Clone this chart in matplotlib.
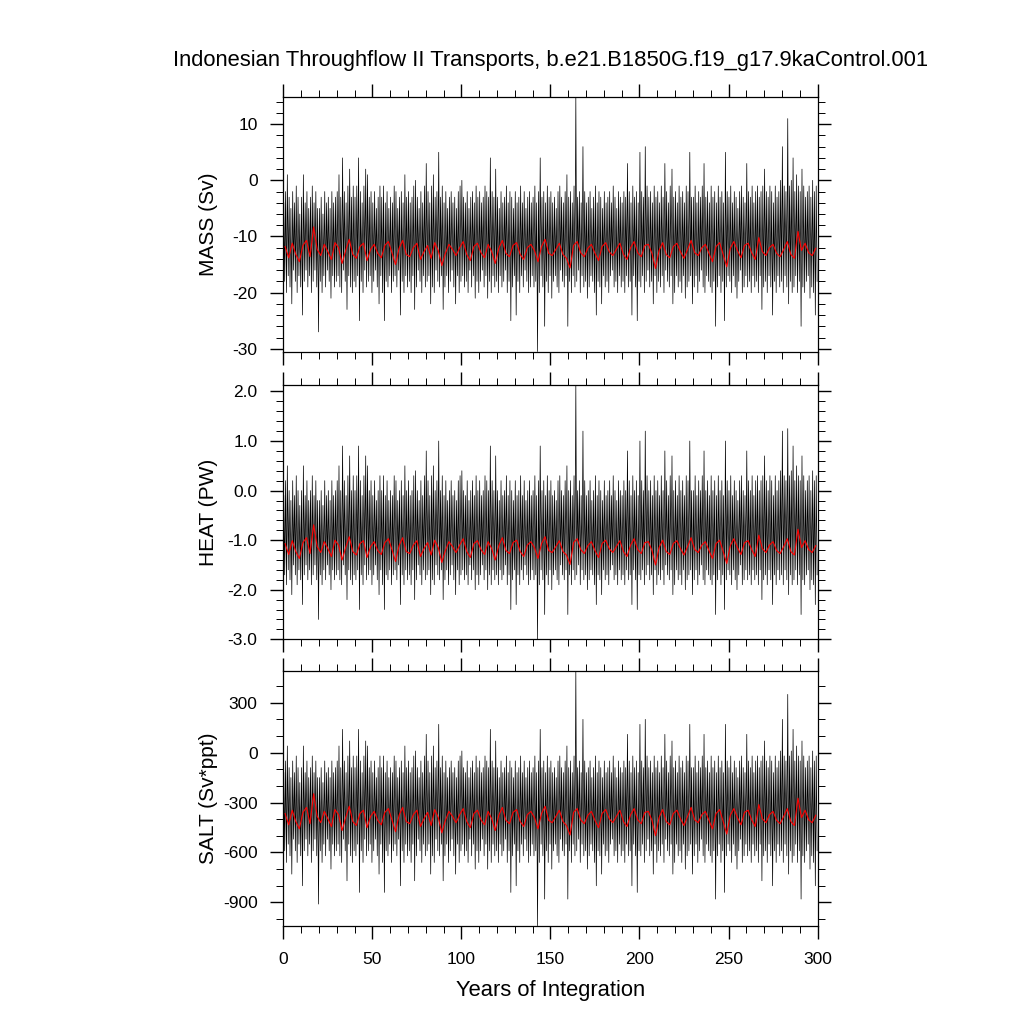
import numpy as np
import matplotlib
matplotlib.use("Agg")
import matplotlib.pyplot as plt
from matplotlib.ticker import MultipleLocator, FormatStrFormatter

plt.rcParams['font.family'] = ['Liberation Sans', 'DejaVu Sans']
plt.rcParams['axes.unicode_minus'] = False

title = "Indonesian Throughflow II Transports, b.e21.B1850G.f19_g17.9kaControl.001"
panel_labels = ["MASS (Sv)", "HEAT (PW)", "SALT (Sv*ppt)"]
x_label = "Years of Integration"

# yearly extremes of the monthly series (years 0..299)
mass_max = [
    -4, -2, 1, -3, -5, -2, -4, -1, -3, -6,
    -3, 1, -4, -2, -5, -3, -1, -4, -2, -5,
    -5, -3, -6, -2, -4, -3, -5, -2, -4, -3,
    -2, 1, -3, 4, -2, -4, -1, 2, -3, -1,
    -3, -1, 4, -2, -4, -1, 2, 1, -3, -2,
    -4, -2, -5, -3, -1, -3, -1, -4, -2, -5,
    -3, -4, -1, -2, -5, -3, -2, -4, 1, -3,
    -2, -4, -3, -1, 0, -3, -5, -2, -4, -1,
    3, -2, -4, -1, 1, -3, -2, 5, -3, -1,
    -4, -2, -5, -3, -2, -4, -3, -5, -2, -1,
    0, -3, -4, -2, -5, -3, -2, -4, -1, -3,
    -2, -4, -3, -1, -2, -3, 4, -2, -3, 2,
    -3, -5, -2, -4, -3, -1, -4, -2, -3, -5,
    -2, -4, -3, -1, -4, -2, -5, -3, -2, -4,
    -3, -1, -4, -2, 4, -3, -2, -4, -1, -3,
    -2, -4, -3, -5, -2, -1, -3, -4, -2, 1,
    -3, -2, -4, -1, 14.8, -3, -2, -4, 6, -2,
    -4, -3, -2, -5, -3, -1, -4, -2, -3, -5,
    -2, -4, -3, -2, -4, -1, -3, -5, -2, -3,
    -4, -2, -3, 3, -2, -4, -1, -3, -2, -4,
    5, -2, -3, 6, -1, -3, -2, -4, -1, -3,
    -2, -4, -1, -3, 3, -2, -4, -1, 2, -3,
    -2, -4, -1, -3, -2, -4, -1, -2, 5, -3,
    -3, -1, -4, -2, -3, -1, 3, -3, -2, -4,
    -1, -3, -2, -4, -1, -3, -2, -4, 5, -2,
    -3, -1, -4, -2, -3, -5, -2, -1, -3, -4,
    3, -2, -3, -1, -4, -2, -1, -3, -2, -1,
    2, -2, -3, -1, -2, -4, -1, -3, -2, 0,
    6, -1, -2, 11, -1, 0, 4, -2, 1, -1,
    -2, 2, -1, -3, -2, -1, -3, 0, -2, -1,
]
mass_min = [
    -18, -20, -17, -19, -22, -16, -18, -20, -17, -19,
    -24, -18, -16, -19, -17, -20, -18, -16, -19, -27,
    -18, -20, -17, -19, -16, -18, -21, -17, -19, -18,
    -17, -19, -20, -16, -18, -23, -17, -19, -20, -18,
    -19, -17, -25, -18, -20, -16, -19, -18, -17, -20,
    -18, -16, -19, -22, -17, -20, -25, -18, -19, -17,
    -20, -18, -17, -19, -16, -24, -18, -20, -17, -19,
    -18, -20, -17, -23, -19, -16, -18, -20, -17, -19,
    -18, -17, -22, -19, -20, -16, -18, -19, -17, -23,
    -19, -17, -20, -18, -16, -19, -22, -17, -20, -18,
    -17, -19, -18, -20, -16, -19, -17, -21, -18, -20,
    -18, -16, -19, -17, -21, -18, -20, -17, -19, -18,
    -20, -17, -19, -18, -16, -20, -18, -25, -19, -17,
    -24, -18, -20, -17, -19, -16, -18, -20, -19, -17,
    -19, -18, -30.5, -20, -17, -19, -26, -18, -20, -17,
    -21, -18, -17, -19, -20, -16, -18, -19, -17, -26,
    -18, -20, -17, -19, -18, -16, -20, -17, -19, -18,
    -21, -19, -17, -18, -20, -24, -18, -19, -22, -17,
    -19, -18, -20, -17, -16, -19, -18, -20, -17, -19,
    -18, -20, -17, -19, -18, -24, -17, -19, -25, -18,
    -19, -17, -20, -18, -16, -19, -18, -22, -17, -20,
    -18, -19, -17, -20, -16, -18, -19, -17, -22, -20,
    -17, -19, -18, -20, -17, -21, -19, -18, -17, -22,
    -19, -17, -20, -18, -16, -19, -20, -17, -18, -19,
    -20, -18, -26, -19, -17, -20, -18, -25, -19, -17,
    -18, -20, -17, -19, -21, -18, -16, -20, -19, -17,
    -19, -18, -20, -17, -19, -18, -20, -17, -23, -19,
    -18, -20, -17, -19, -24, -18, -20, -17, -19, -18,
    -20, -17, -19, -22, -18, -20, -19, -17, -20, -18,
    -26, -19, -20, -18, -17, -21, -19, -20, -24, -18,
]
# red smoothed line, one value per 2 years
mass_mean = [
    -11.8, -13.8, -11.2, -13.2, -14.5, -11.6, -10.7, -13.6, -8.3, -12.3,
    -13.4, -11.4, -12.7, -14.1, -11.1, -12.0, -14.8, -12.5, -10.5, -13.2,
    -13.9, -11.8, -11.2, -14.3, -12.3, -11.4, -13.0, -13.8, -11.6, -10.9,
    -12.9, -15.0, -12.1, -10.7, -13.2, -13.6, -12.0, -11.2, -14.1, -12.7,
    -11.6, -13.9, -11.1, -12.5, -15.2, -13.0, -11.4, -12.3, -13.4, -12.0,
    -10.9, -13.2, -14.3, -11.8, -11.2, -12.9, -13.8, -11.4, -12.7, -14.8,
    -12.1, -10.7, -13.0, -13.6, -11.6, -11.1, -13.2, -14.1, -12.0, -11.4,
    -12.5, -14.5, -11.8, -10.5, -13.0, -13.4, -12.3, -11.2, -13.2, -13.9,
    -15.6, -11.6, -10.9, -12.9, -13.6, -12.1, -11.4, -13.0, -14.3, -11.8,
    -11.1, -12.7, -13.4, -12.3, -11.2, -13.2, -14.1, -12.0, -10.9, -12.9,
    -13.6, -11.6, -11.4, -13.0, -15.7, -12.5, -11.1, -13.2, -13.8, -11.8,
    -11.2, -12.7, -13.9, -12.3, -10.7, -12.9, -13.4, -12.0, -11.4, -13.0,
    -14.5, -11.8, -11.1, -13.2, -15.4, -12.1, -10.9, -12.5, -13.8, -11.6,
    -11.2, -12.9, -14.1, -10.2, -12.7, -13.4, -12.0, -11.4, -13.0, -13.6,
    -12.3, -10.9, -13.2, -13.9, -9.1, -12.5, -11.2, -12.9, -13.4, -12.1,
]

heat_max = [
    -0.1, 0.2, 0.5, 0.0, -0.2, 0.2, -0.1, 0.3, 0.0, -0.3,
    0.0, 0.5, -0.1, 0.2, -0.2, 0.0, 0.3, -0.1, 0.2, -0.2,
    -0.2, 0.0, -0.3, 0.2, -0.1, 0.0, -0.2, 0.2, -0.1, 0.0,
    0.2, 0.5, 0.0, 0.9, 0.2, -0.1, 0.3, 0.7, 0.0, 0.3,
    0.0, 0.3, 0.9, 0.2, -0.1, 0.3, 0.7, 0.5, 0.0, 0.2,
    -0.1, 0.2, -0.2, 0.0, 0.3, 0.0, 0.3, -0.1, 0.2, -0.2,
    0.0, -0.1, 0.3, 0.2, -0.2, 0.0, 0.2, -0.1, 0.5, 0.0,
    0.2, -0.1, 0.0, 0.3, 0.4, 0.0, -0.2, 0.2, -0.1, 0.3,
    0.8, 0.2, -0.1, 0.3, 0.5, 0.0, 0.2, 1.0, 0.0, 0.3,
    -0.1, 0.2, -0.2, 0.0, 0.2, -0.1, 0.0, -0.2, 0.2, 0.3,
    0.4, 0.0, -0.1, 0.2, -0.2, 0.0, 0.2, -0.1, 0.3, 0.0,
    0.2, -0.1, 0.0, 0.3, 0.2, 0.0, 0.9, 0.2, 0.0, 0.7,
    0.0, -0.2, 0.2, -0.1, 0.0, 0.3, -0.1, 0.2, 0.0, -0.2,
    0.2, -0.1, 0.0, 0.3, -0.1, 0.2, -0.2, 0.0, 0.2, -0.1,
    0.0, 0.3, -0.1, 0.2, 0.9, 0.0, 0.2, -0.1, 0.3, 0.0,
    0.2, -0.1, 0.0, -0.2, 0.2, 0.3, 0.0, -0.1, 0.2, 0.5,
    0.0, 0.2, -0.1, 0.3, 2.13, 0.0, 0.2, -0.1, 1.2, 0.2,
    -0.1, 0.0, 0.2, -0.2, 0.0, 0.3, -0.1, 0.2, 0.0, -0.2,
    0.2, -0.1, 0.0, 0.2, -0.1, 0.3, 0.0, -0.2, 0.2, 0.0,
    -0.1, 0.2, 0.0, 0.8, 0.2, -0.1, 0.3, 0.0, 0.2, -0.1,
    1.0, 0.2, 0.0, 1.2, 0.3, 0.0, 0.2, -0.1, 0.3, 0.0,
    0.2, -0.1, 0.3, 0.0, 0.8, 0.2, -0.1, 0.3, 0.7, 0.0,
    0.2, -0.1, 0.3, 0.0, 0.2, -0.1, 0.3, 0.2, 1.0, 0.0,
    0.0, 0.3, -0.1, 0.2, 0.0, 0.3, 0.8, 0.0, 0.2, -0.1,
    0.3, 0.0, 0.2, -0.1, 0.3, 0.0, 0.2, -0.1, 1.0, 0.2,
    0.0, 0.3, -0.1, 0.2, 0.0, -0.2, 0.2, 0.3, 0.0, -0.1,
    0.8, 0.2, 0.0, 0.3, -0.1, 0.2, 0.3, 0.0, 0.2, 0.3,
    0.7, 0.2, 0.0, 0.3, 0.2, -0.1, 0.3, 0.0, 0.2, 0.4,
    1.2, 0.3, 0.2, 1.25, 0.3, 0.4, 0.9, 0.2, 0.5, 0.3,
    0.2, 0.7, 0.3, 0.0, 0.2, 0.3, 0.0, 0.4, 0.2, 0.3,
]
heat_min = [
    -1.7, -1.9, -1.6, -1.8, -2.1, -1.5, -1.7, -1.9, -1.6, -1.8,
    -2.3, -1.7, -1.5, -1.8, -1.6, -1.9, -1.7, -1.5, -1.8, -2.6,
    -1.7, -1.9, -1.6, -1.8, -1.5, -1.7, -2.0, -1.6, -1.8, -1.7,
    -1.6, -1.8, -1.9, -1.5, -1.7, -2.2, -1.6, -1.8, -1.9, -1.7,
    -1.8, -1.6, -2.4, -1.7, -1.9, -1.5, -1.8, -1.7, -1.6, -1.9,
    -1.7, -1.5, -1.8, -2.1, -1.6, -1.9, -2.4, -1.7, -1.8, -1.6,
    -1.9, -1.7, -1.6, -1.8, -1.5, -2.3, -1.7, -1.9, -1.6, -1.8,
    -1.7, -1.9, -1.6, -2.2, -1.8, -1.5, -1.7, -1.9, -1.6, -1.8,
    -1.7, -1.6, -2.1, -1.8, -1.9, -1.5, -1.7, -1.8, -1.6, -2.2,
    -1.8, -1.6, -1.9, -1.7, -1.5, -1.8, -2.1, -1.6, -1.9, -1.7,
    -1.6, -1.8, -1.7, -1.9, -1.5, -1.8, -1.6, -2.0, -1.7, -1.9,
    -1.7, -1.5, -1.8, -1.6, -2.0, -1.7, -1.9, -1.6, -1.8, -1.7,
    -1.9, -1.6, -1.8, -1.7, -1.5, -1.9, -1.7, -2.4, -1.8, -1.6,
    -2.3, -1.7, -1.9, -1.6, -1.8, -1.5, -1.7, -1.9, -1.8, -1.6,
    -1.8, -1.7, -3.0, -1.9, -1.6, -1.8, -2.5, -1.7, -1.9, -1.6,
    -2.0, -1.7, -1.6, -1.8, -1.9, -1.5, -1.7, -1.8, -1.6, -2.5,
    -1.7, -1.9, -1.6, -1.8, -1.7, -1.5, -1.9, -1.6, -1.8, -1.7,
    -2.0, -1.8, -1.6, -1.7, -1.9, -2.3, -1.7, -1.8, -2.1, -1.6,
    -1.8, -1.7, -1.9, -1.6, -1.5, -1.8, -1.7, -1.9, -1.6, -1.8,
    -1.7, -1.9, -1.6, -1.8, -1.7, -2.3, -1.6, -1.8, -2.4, -1.7,
    -1.8, -1.6, -1.9, -1.7, -1.5, -1.8, -1.7, -2.1, -1.6, -1.9,
    -1.7, -1.8, -1.6, -1.9, -1.5, -1.7, -1.8, -1.6, -2.1, -1.9,
    -1.6, -1.8, -1.7, -1.9, -1.6, -2.0, -1.8, -1.7, -1.6, -2.1,
    -1.8, -1.6, -1.9, -1.7, -1.5, -1.8, -1.9, -1.6, -1.7, -1.8,
    -1.9, -1.7, -2.5, -1.8, -1.6, -1.9, -1.7, -2.4, -1.8, -1.6,
    -1.7, -1.9, -1.6, -1.8, -2.0, -1.7, -1.5, -1.9, -1.8, -1.6,
    -1.8, -1.7, -1.9, -1.6, -1.8, -1.7, -1.9, -1.6, -2.2, -1.8,
    -1.7, -1.9, -1.6, -1.8, -2.3, -1.7, -1.9, -1.6, -1.8, -1.7,
    -1.9, -1.6, -1.8, -2.1, -1.7, -1.9, -1.8, -1.6, -1.9, -1.7,
    -2.5, -1.8, -1.9, -1.7, -1.6, -2.0, -1.8, -1.9, -2.3, -1.7,
]
heat_mean = [
    -1.07, -1.29, -1.01, -1.23, -1.37, -1.05, -0.95, -1.27, -0.69, -1.13,
    -1.25, -1.03, -1.17, -1.33, -1.00, -1.10, -1.40, -1.15, -0.93, -1.23,
    -1.30, -1.07, -1.01, -1.35, -1.13, -1.03, -1.21, -1.29, -1.05, -0.97,
    -1.19, -1.43, -1.11, -0.95, -1.23, -1.27, -1.10, -1.01, -1.33, -1.17,
    -1.05, -1.30, -1.00, -1.15, -1.45, -1.21, -1.03, -1.13, -1.25, -1.10,
    -0.97, -1.23, -1.35, -1.07, -1.01, -1.19, -1.29, -1.03, -1.17, -1.40,
    -1.11, -0.95, -1.21, -1.27, -1.05, -1.00, -1.23, -1.33, -1.10, -1.03,
    -1.15, -1.37, -1.07, -0.93, -1.21, -1.25, -1.13, -1.01, -1.23, -1.30,
    -1.49, -1.05, -0.97, -1.19, -1.27, -1.11, -1.03, -1.21, -1.35, -1.07,
    -1.00, -1.17, -1.25, -1.13, -1.01, -1.23, -1.33, -1.10, -0.97, -1.19,
    -1.27, -1.05, -1.03, -1.21, -1.50, -1.15, -1.00, -1.23, -1.29, -1.07,
    -1.01, -1.17, -1.30, -1.13, -0.95, -1.19, -1.25, -1.10, -1.03, -1.21,
    -1.37, -1.07, -1.00, -1.23, -1.47, -1.11, -0.97, -1.15, -1.29, -1.05,
    -1.01, -1.19, -1.33, -0.90, -1.17, -1.25, -1.10, -1.03, -1.21, -1.27,
    -1.13, -0.97, -1.23, -1.30, -0.78, -1.15, -1.01, -1.19, -1.25, -1.11,
]

salt_max = [
    -120, -50, 40, -90, -150, -50, -120, -20, -90, -180,
    -90, 40, -120, -50, -150, -90, -20, -120, -50, -150,
    -150, -90, -180, -50, -120, -90, -150, -50, -120, -90,
    -50, 40, -90, 140, -50, -120, -20, 70, -90, -20,
    -90, -20, 140, -50, -120, -20, 70, 40, -90, -50,
    -120, -50, -150, -90, -20, -90, -20, -120, -50, -150,
    -90, -120, -20, -50, -150, -90, -50, -120, 40, -90,
    -50, -120, -90, -20, 10, -90, -150, -50, -120, -20,
    110, -50, -120, -20, 40, -90, -50, 170, -90, -20,
    -120, -50, -150, -90, -50, -120, -90, -150, -50, -20,
    10, -90, -120, -50, -150, -90, -50, -120, -20, -90,
    -50, -120, -90, -20, -50, -90, 140, -50, -90, 70,
    -90, -150, -50, -120, -90, -20, -120, -50, -90, -150,
    -50, -120, -90, -20, -120, -50, -150, -90, -50, -120,
    -90, -20, -120, -50, 140, -90, -50, -120, -20, -90,
    -50, -120, -90, -150, -50, -20, -90, -120, -50, 40,
    -90, -50, -120, -20, 488, -90, -50, -120, 200, -50,
    -120, -90, -50, -150, -90, -20, -120, -50, -90, -150,
    -50, -120, -90, -50, -120, -20, -90, -150, -50, -90,
    -120, -50, -90, 110, -50, -120, -20, -90, -50, -120,
    170, -50, -90, 200, -20, -90, -50, -120, -20, -90,
    -50, -120, -20, -90, 110, -50, -120, -20, 70, -90,
    -50, -120, -20, -90, -50, -120, -20, -50, 170, -90,
    -90, -20, -120, -50, -90, -20, 110, -90, -50, -120,
    -20, -90, -50, -120, -20, -90, -50, -120, 170, -50,
    -90, -20, -120, -50, -90, -150, -50, -20, -90, -120,
    110, -50, -90, -20, -120, -50, -20, -90, -50, -20,
    70, -50, -90, -20, -50, -120, -20, -90, -50, 10,
    200, -20, -50, 350, -20, 10, 140, -50, 40, -20,
    -50, 70, -20, -90, -50, -20, -90, 10, -50, -20,
]
salt_min = [
    -590, -660, -550, -620, -730, -520, -590, -660, -550, -620,
    -800, -590, -520, -620, -550, -660, -590, -520, -620, -910,
    -590, -660, -550, -620, -520, -590, -700, -550, -620, -590,
    -550, -620, -660, -520, -590, -770, -550, -620, -660, -590,
    -620, -550, -840, -590, -660, -520, -620, -590, -550, -660,
    -590, -520, -620, -730, -550, -660, -840, -590, -620, -550,
    -660, -590, -550, -620, -520, -800, -590, -660, -550, -620,
    -590, -660, -550, -770, -620, -520, -590, -660, -550, -620,
    -590, -550, -730, -620, -660, -520, -590, -620, -550, -770,
    -620, -550, -660, -590, -520, -620, -730, -550, -660, -590,
    -550, -620, -590, -660, -520, -620, -550, -700, -590, -660,
    -590, -520, -620, -550, -700, -590, -660, -550, -620, -590,
    -660, -550, -620, -590, -520, -660, -590, -840, -620, -550,
    -800, -590, -660, -550, -620, -520, -590, -660, -620, -550,
    -620, -590, -1040, -660, -550, -620, -880, -590, -660, -550,
    -700, -590, -550, -620, -660, -520, -590, -620, -550, -880,
    -590, -660, -550, -620, -590, -520, -660, -550, -620, -590,
    -700, -620, -550, -590, -660, -800, -590, -620, -730, -550,
    -620, -590, -660, -550, -520, -620, -590, -660, -550, -620,
    -590, -660, -550, -620, -590, -800, -550, -620, -840, -590,
    -620, -550, -660, -590, -520, -620, -590, -730, -550, -660,
    -590, -620, -550, -660, -520, -590, -620, -550, -730, -660,
    -550, -620, -590, -660, -550, -700, -620, -590, -550, -730,
    -620, -550, -660, -590, -520, -620, -660, -550, -590, -620,
    -660, -590, -880, -620, -550, -660, -590, -840, -620, -550,
    -590, -660, -550, -620, -700, -590, -520, -660, -620, -550,
    -620, -590, -660, -550, -620, -590, -660, -550, -770, -620,
    -590, -660, -550, -620, -800, -590, -660, -550, -620, -590,
    -660, -550, -620, -730, -590, -660, -620, -550, -660, -590,
    -880, -620, -660, -590, -550, -700, -620, -660, -800, -590,
]
salt_mean = [
    -366, -434, -346, -414, -458, -359, -329, -427, -247, -383,
    -421, -353, -397, -444, -342, -373, -468, -390, -322, -414,
    -438, -366, -346, -451, -383, -353, -407, -434, -359, -336,
    -404, -475, -376, -329, -414, -427, -373, -346, -444, -397,
    -359, -438, -342, -390, -482, -407, -353, -383, -421, -373,
    -336, -414, -451, -366, -346, -404, -434, -353, -397, -468,
    -376, -329, -407, -427, -359, -342, -414, -444, -373, -353,
    -390, -458, -366, -322, -407, -421, -383, -346, -414, -438,
    -495, -359, -336, -404, -427, -376, -353, -407, -451, -366,
    -342, -397, -421, -383, -346, -414, -444, -373, -336, -404,
    -427, -359, -353, -407, -499, -390, -342, -414, -434, -366,
    -346, -397, -438, -383, -329, -404, -421, -373, -353, -407,
    -458, -366, -342, -414, -489, -376, -336, -390, -434, -359,
    -346, -404, -444, -312, -397, -421, -373, -353, -407, -427,
    -383, -336, -414, -438, -274, -390, -346, -404, -421, -376,
]

years = np.arange(len(mass_max))
mean_years = np.arange(len(mass_mean)) * 2 + 1

panels = [
    (mass_max, mass_min, mass_mean, 10, 2, '%d'),
    (heat_max, heat_min, heat_mean, 1.0, 0.2, '%.1f'),
    (salt_max, salt_min, salt_mean, 300, 100, '%d'),
]

fig = plt.figure(figsize=(10.24, 10.24), dpi=100)
bottoms = [0.6567, 0.3757, 0.0960]
axes = [fig.add_axes([0.2767, b, 0.5217, 0.2483]) for b in bottoms]

for i, ax in enumerate(axes):
    hi, lo, mean, major, minor, fmt = panels[i]
    hi = np.asarray(hi, dtype=float)
    lo = np.asarray(lo, dtype=float)
    # zigzag between each year's high and low to mimic the dense monthly trace
    xs = np.column_stack([years + 0.25, years + 0.75]).ravel()
    ys = np.column_stack([hi, lo]).ravel()
    ax.plot(xs, ys, color='black', lw=0.5)
    ax.plot(mean_years, mean, color='red', lw=0.8)

    ax.set_xlim(0, 300)
    ax.set_ylim(lo.min(), hi.max())
    ax.xaxis.set_major_locator(MultipleLocator(50))
    ax.xaxis.set_minor_locator(MultipleLocator(10))
    ax.yaxis.set_major_locator(MultipleLocator(major))
    ax.yaxis.set_minor_locator(MultipleLocator(minor))
    ax.yaxis.set_major_formatter(FormatStrFormatter(fmt))
    ax.tick_params(which='both', direction='out', top=True, right=True,
                   labelsize=12.5)
    ax.tick_params(which='major', length=9.6, width=1.0, pad=9)
    ax.tick_params(which='minor', length=4.8, width=0.7)
    for s in ax.spines.values():
        s.set_linewidth(0.9)
    ax.set_ylabel(panel_labels[i], fontsize=15)
    ax.yaxis.set_label_coords(-0.122, 0.5)
    if i < 2:
        ax.tick_params(labelbottom=False)

axes[2].set_xlabel(x_label, fontsize=15.8)
axes[2].xaxis.set_label_coords(0.5, -0.214)

fig.suptitle(title, x=0.5375, y=0.941, va='center', fontsize=15.8)

fig.savefig("out.png", dpi=100)
